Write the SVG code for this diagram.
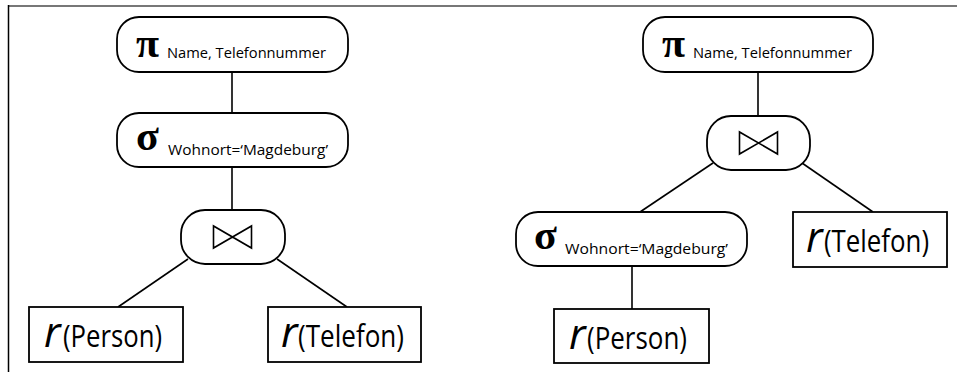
<svg xmlns="http://www.w3.org/2000/svg" width="957" height="372" viewBox="0 0 957 372">
  <style>
    .op { fill: #fff; stroke: #000; stroke-width: 1.8; }
    .rel { fill: #fff; stroke: #000; stroke-width: 1.8; }
    .edge { stroke: #000; stroke-width: 1.6; fill: none; }
    .sym { font-family: "Liberation Serif", "DejaVu Serif", serif; font-weight: bold; font-size: 42px; fill: #000; }
    .sub { font-family: "Open Sans", "Liberation Sans", sans-serif; font-size: 14px; fill: #000; }
    .rr { font-family: "Open Sans", "Liberation Sans", sans-serif; font-style: italic; font-size: 42px; fill: #000; }
    .rn { font-family: "Open Sans", "Liberation Sans", sans-serif; font-size: 30.5px; fill: #000; }
    .bow { fill: none; stroke: #000; stroke-width: 1.6; stroke-linejoin: miter; }
  </style>
  <defs>
    <!-- natural join symbol centred on 0,0 -->
    <path id="bowtie" class="bow" d="M -19 -11 L -19 11 L 19 -11 L 19 11 Z"/>
  </defs>

  <rect width="957" height="372" fill="#fff"/>

  <!-- page frame -->
  <line x1="8" y1="6" x2="957" y2="6" stroke="#777" stroke-width="2"/>
  <line x1="8.5" y1="5" x2="8.5" y2="372" stroke="#000" stroke-width="1.5"/>

  <!-- connectors -->
  <g id="edges">
    <line class="edge" x1="232" y1="72" x2="232" y2="113"/>
    <line class="edge" x1="232" y1="167" x2="232" y2="210"/>
    <line class="edge" x1="188" y1="259" x2="118" y2="307"/>
    <line class="edge" x1="277" y1="259" x2="347" y2="307"/>

    <line class="edge" x1="758" y1="72" x2="758" y2="116"/>
    <line class="edge" x1="713" y1="163" x2="640" y2="212"/>
    <line class="edge" x1="802" y1="163" x2="873" y2="212"/>
    <line class="edge" x1="632" y1="266" x2="632" y2="309"/>
  </g>

  <!-- left tree -->
  <g id="l-project">
    <rect class="op" x="117" y="17" width="231" height="55" rx="22"/>
    <text class="sym" x="136" y="57">π</text>
    <text class="sub" x="167" y="58" textLength="159" lengthAdjust="spacingAndGlyphs">Name, Telefonnummer</text>
  </g>
  <g id="l-select">
    <rect class="op" x="117" y="113" width="231" height="54" rx="22"/>
    <text class="sym" x="136" y="150">σ</text>
    <text class="sub" x="168" y="155" textLength="160" lengthAdjust="spacingAndGlyphs">Wohnort=‘Magdeburg’</text>
  </g>
  <g id="l-join">
    <rect class="op" x="181" y="210" width="104" height="54" rx="24"/>
    <use href="#bowtie" x="232.5" y="237"/>
  </g>
  <g id="l-person">
    <rect class="rel" x="29" y="307" width="154" height="55"/>
    <text class="rr" x="44" y="347">r</text>
    <text class="rn" x="63" y="347" textLength="99" lengthAdjust="spacingAndGlyphs">(Person)</text>
  </g>
  <g id="l-telefon">
    <rect class="rel" x="268" y="307" width="153" height="55"/>
    <text class="rr" x="281" y="347">r</text>
    <text class="rn" x="298" y="347" textLength="106" lengthAdjust="spacingAndGlyphs">(Telefon)</text>
  </g>

  <!-- right tree -->
  <g id="r-project">
    <rect class="op" x="643" y="17" width="230" height="55" rx="22"/>
    <text class="sym" x="662" y="57">π</text>
    <text class="sub" x="693" y="58" textLength="159" lengthAdjust="spacingAndGlyphs">Name, Telefonnummer</text>
  </g>
  <g id="r-join">
    <rect class="op" x="707" y="116" width="103" height="54" rx="24"/>
    <use href="#bowtie" x="758.5" y="143"/>
  </g>
  <g id="r-select">
    <rect class="op" x="516" y="212" width="231" height="54" rx="22"/>
    <text class="sym" x="534" y="249">σ</text>
    <text class="sub" x="565" y="254" textLength="163" lengthAdjust="spacingAndGlyphs">Wohnort=‘Magdeburg’</text>
  </g>
  <g id="r-telefon">
    <rect class="rel" x="793" y="212" width="154" height="55"/>
    <text class="rr" x="806" y="252">r</text>
    <text class="rn" x="824" y="252" textLength="105" lengthAdjust="spacingAndGlyphs">(Telefon)</text>
  </g>
  <g id="r-person">
    <rect class="rel" x="554" y="309" width="155" height="54"/>
    <text class="rr" x="569" y="349">r</text>
    <text class="rn" x="587" y="349" textLength="100" lengthAdjust="spacingAndGlyphs">(Person)</text>
  </g>
</svg>
